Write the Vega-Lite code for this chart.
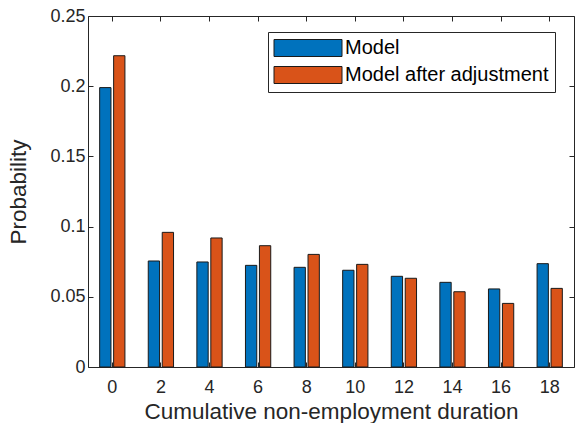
{
  "$schema": "https://vega.github.io/schema/vega-lite/v6.json",
  "width": 486,
  "height": 351,
  "autosize": {"type": "none"},
  "padding": {"left": 88, "top": 16, "right": 1, "bottom": 56},
  "background": "#ffffff",
  "data": {
    "values": [
      {"duration": 0, "series": "Model", "probability": 0.199},
      {"duration": 0, "series": "Model after adjustment", "probability": 0.2217},
      {"duration": 2, "series": "Model", "probability": 0.0755},
      {"duration": 2, "series": "Model after adjustment", "probability": 0.0959},
      {"duration": 4, "series": "Model", "probability": 0.0748},
      {"duration": 4, "series": "Model after adjustment", "probability": 0.0919},
      {"duration": 6, "series": "Model", "probability": 0.0724},
      {"duration": 6, "series": "Model after adjustment", "probability": 0.0864},
      {"duration": 8, "series": "Model", "probability": 0.071},
      {"duration": 8, "series": "Model after adjustment", "probability": 0.0802},
      {"duration": 10, "series": "Model", "probability": 0.0689},
      {"duration": 10, "series": "Model after adjustment", "probability": 0.0731},
      {"duration": 12, "series": "Model", "probability": 0.0646},
      {"duration": 12, "series": "Model after adjustment", "probability": 0.0632},
      {"duration": 14, "series": "Model", "probability": 0.0603},
      {"duration": 14, "series": "Model after adjustment", "probability": 0.0536},
      {"duration": 16, "series": "Model", "probability": 0.0556},
      {"duration": 16, "series": "Model after adjustment", "probability": 0.0453},
      {"duration": 18, "series": "Model", "probability": 0.0736},
      {"duration": 18, "series": "Model after adjustment", "probability": 0.056}
    ]
  },
  "config": {
    "font": "Liberation Sans",
    "view": {"stroke": null},
    "axis": {
      "domainColor": "#262626",
      "domainWidth": 1,
      "tickColor": "#262626",
      "tickWidth": 1,
      "tickSize": -5,
      "labelColor": "#262626",
      "labelFont": "Liberation Sans",
      "labelFontSize": 18,
      "titleColor": "#262626",
      "titleFont": "Liberation Sans",
      "titleFontSize": 22.5,
      "titleFontWeight": "normal",
      "grid": false
    }
  },
  "layer": [
    {
      "mark": {"type": "bar", "stroke": "#1a1a1a", "strokeWidth": 1},
      "encoding": {
        "x": {
          "field": "duration",
          "type": "ordinal",
          "scale": {"paddingInner": 0.48, "paddingOuter": 0.24},
          "axis": {
            "orient": "bottom",
            "labelAngle": 0,
            "labelPadding": 16,
            "title": "Cumulative non-employment duration",
            "titleBaseline": "alphabetic",
            "titleY": 51
          }
        },
        "xOffset": {
          "field": "series",
          "type": "nominal",
          "sort": ["Model", "Model after adjustment"],
          "scale": {"paddingInner": 0.19}
        },
        "y": {
          "field": "probability",
          "type": "quantitative",
          "scale": {"domain": [0, 0.25], "nice": false},
          "axis": {
            "orient": "left",
            "values": [0, 0.05, 0.1, 0.15, 0.2, 0.25],
            "format": "~g",
            "labelPadding": 8,
            "title": "Probability",
            "titleBaseline": "alphabetic",
            "titleAngle": -90,
            "titleX": -63
          }
        },
        "color": {
          "field": "series",
          "type": "nominal",
          "scale": {
            "domain": ["Model", "Model after adjustment"],
            "range": ["#0072BD", "#D95319"]
          },
          "legend": {
            "orient": "none",
            "legendX": 180,
            "legendY": 16,
            "title": null,
            "symbolType": "M-4,-1H4V1H-4Z",
            "symbolSize": 289,
            "symbolOffset": 24,
            "symbolStrokeColor": "#1a1a1a",
            "symbolStrokeWidth": 1,
            "symbolOpacity": 1,
            "labelFont": "Liberation Sans",
            "labelFontSize": 20,
            "labelLimit": 400,
            "labelColor": "#000000",
            "labelOffset": 27,
            "rowPadding": 5,
            "padding": 6,
            "strokeColor": "#262626",
            "fillColor": "#ffffff"
          }
        }
      }
    },
    {
      "mark": {"type": "point", "opacity": 0},
      "encoding": {
        "x": {
          "field": "duration",
          "type": "ordinal",
          "axis": {"orient": "top", "labels": false, "title": null}
        },
        "y": {
          "field": "probability",
          "type": "quantitative",
          "axis": {
            "orient": "right",
            "values": [0, 0.05, 0.1, 0.15, 0.2, 0.25],
            "labels": false,
            "title": null
          }
        }
      }
    }
  ],
  "resolve": {"axis": {"x": "independent", "y": "independent"}}
}
